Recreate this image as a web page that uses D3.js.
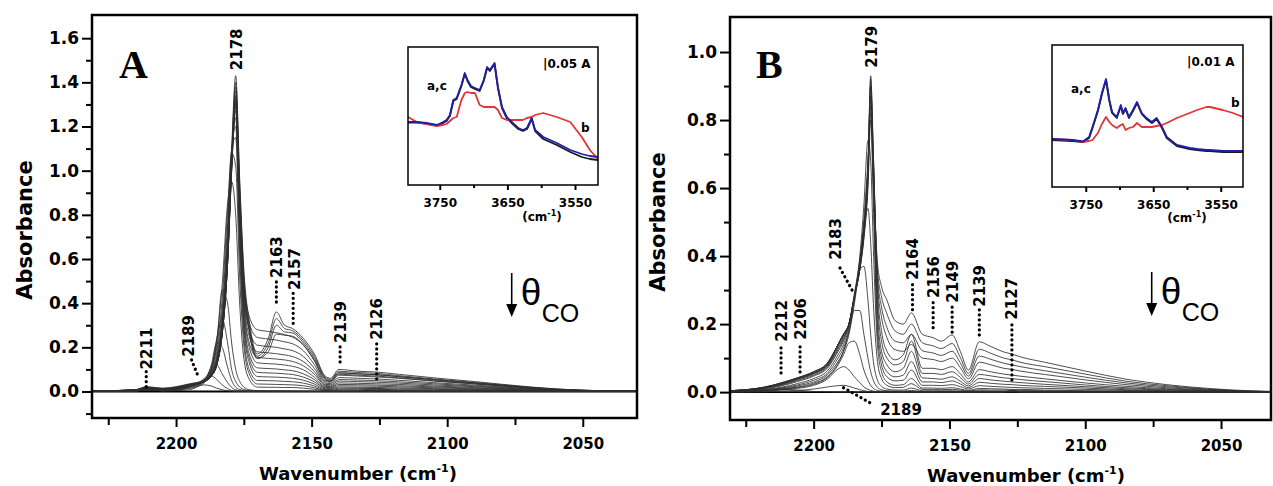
<!DOCTYPE html>
<html>
<head>
<meta charset="utf-8">
<script src="https://cdn.jsdelivr.net/npm/d3@7"></script>
<style>
  body { margin: 0; background: #fff; }
  svg { display: block; }
</style>
</head>
<body>
<div id="chart"></div>
<script>
// ---------- Panel A data (wavenumber grid + spectra, high -> low coverage) ----------
const gridA = [2231, 2215, 2211, 2205, 2195, 2190, 2187, 2185, 2183, 2181, 2179.5, 2178, 2176.5, 2175, 2173, 2170,
  2166, 2163, 2160, 2157, 2153, 2149, 2145, 2143, 2140, 2133, 2126, 2118, 2105, 2090, 2075, 2060, 2045, 2030];

const spectraA = [
  [0.002,0.008,0.022,0.015,0.035, 0.05,0.08,0.14,0.3,0.65, 1.1,1.43,0.95,0.55,0.32, 0.17,0.24,0.36,0.3,0.285, 0.24,0.17,0.07,0.06,0.1, 0.092,0.088,0.078,0.062,0.045, 0.027,0.012,0.004,0.001],
  [0.002,0.008,0.02,0.014,0.033, 0.048,0.075,0.13,0.28,0.62, 1.07,1.40,0.93,0.53,0.3, 0.16,0.22,0.33,0.285,0.275, 0.23,0.16,0.065,0.055,0.092, 0.086,0.082,0.072,0.057,0.041, 0.025,0.011,0.004,0.001],
  [0.002,0.007,0.019,0.013,0.031, 0.046,0.072,0.125,0.27,0.6, 1.05,1.38,0.9,0.5,0.28, 0.15,0.2,0.3,0.27,0.265, 0.22,0.15,0.06,0.05,0.085, 0.08,0.076,0.067,0.053,0.038, 0.023,0.01,0.004,0.001],
  [0.002,0.007,0.018,0.012,0.03, 0.045,0.07,0.12,0.26,0.58, 1.03,1.36,0.88,0.48,0.27, 0.15,0.18,0.26,0.255,0.25, 0.21,0.14,0.055,0.045,0.078, 0.074,0.07,0.062,0.049,0.035, 0.021,0.009,0.003,0.001],
  [0.002,0.007,0.017,0.012,0.03, 0.045,0.07,0.12,0.26,0.58, 1.02,1.34,0.88,0.5,0.34, 0.28,0.272,0.266,0.258,0.246, 0.21,0.14,0.05,0.048,0.084, 0.08,0.076,0.068,0.054,0.039, 0.023,0.01,0.003,0.001],
  [0.002,0.007,0.016,0.011,0.03, 0.045,0.07,0.12,0.26,0.58, 1.01,1.33,0.86,0.48,0.31, 0.245,0.238,0.233,0.225,0.216, 0.184,0.122,0.044,0.042,0.074, 0.07,0.066,0.06,0.047,0.034, 0.02,0.009,0.003,0.001],
  [0.002,0.006,0.015,0.011,0.029, 0.044,0.07,0.12,0.26,0.58, 1.0,1.32,0.84,0.45,0.28, 0.21,0.204,0.2,0.193,0.185, 0.158,0.105,0.038,0.036,0.063, 0.06,0.057,0.051,0.04,0.029, 0.017,0.008,0.003,0.001],
  [0.002,0.006,0.014,0.01,0.028, 0.043,0.07,0.12,0.26,0.58, 1.0,1.31,0.82,0.43,0.25, 0.18,0.175,0.171,0.166,0.158, 0.135,0.09,0.032,0.031,0.054, 0.052,0.049,0.044,0.035,0.025, 0.015,0.007,0.002,0.001],
  [0.002,0.006,0.013,0.01,0.027, 0.042,0.07,0.12,0.27,0.6, 1.0,1.3,0.8,0.41,0.22, 0.155,0.15,0.147,0.143,0.136, 0.116,0.078,0.028,0.026,0.047, 0.045,0.042,0.038,0.03,0.022, 0.013,0.006,0.002,0.001],
  [0.002,0.005,0.012,0.009,0.026, 0.042,0.072,0.13,0.28,0.62, 1.03,1.29,0.77,0.38,0.2, 0.13,0.126,0.124,0.12,0.114, 0.098,0.065,0.023,0.022,0.039, 0.037,0.035,0.032,0.025,0.018, 0.011,0.005,0.002,0],
  [0.002,0.005,0.011,0.008,0.025, 0.042,0.075,0.14,0.3,0.65, 1.05,1.27,0.74,0.35,0.17, 0.107,0.104,0.102,0.098,0.094, 0.08,0.054,0.019,0.018,0.032, 0.031,0.029,0.026,0.021,0.015, 0.009,0.004,0.001,0],
  [0.002,0.005,0.01,0.008,0.025, 0.043,0.078,0.15,0.32,0.68, 1.07,1.24,0.71,0.32,0.15, 0.087,0.084,0.083,0.08,0.077, 0.065,0.044,0.016,0.015,0.026, 0.025,0.024,0.021,0.017,0.012, 0.007,0.003,0.001,0],
  [0.002,0.005,0.01,0.007,0.025, 0.045,0.082,0.16,0.34,0.72, 1.08,1.2,0.67,0.29,0.13, 0.068,0.066,0.065,0.063,0.06, 0.051,0.034,0.012,0.012,0.02, 0.019,0.018,0.016,0.013,0.009, 0.005,0.002,0.001,0],
  [0.002,0.005,0.009,0.007,0.025, 0.047,0.088,0.18,0.37,0.76, 1.1,1.15,0.61,0.25,0.1, 0.05,0.049,0.048,0.046,0.044, 0.038,0.025,0.009,0.009,0.015, 0.014,0.013,0.012,0.01,0.007, 0.004,0.002,0.001,0],
  [0.002,0.004,0.009,0.007,0.026, 0.05,0.095,0.2,0.42,0.82, 1.08,1.02,0.51,0.21,0.08, 0.034,0.033,0.032,0.031,0.03, 0.026,0.017,0.006,0.006,0.01, 0.01,0.009,0.008,0.007,0.005, 0.003,0.001,0,0],
  [0.002,0.004,0.008,0.006,0.027, 0.055,0.11,0.23,0.48,0.85, 0.95,0.8,0.39,0.15,0.055, 0.02,0.019,0.019,0.018,0.018, 0.015,0.01,0.004,0.003,0.006, 0.006,0.005,0.005,0.004,0.003, 0.002,0.001,0,0],
  [0.001,0.003,0.008,0.005,0.025, 0.05,0.1,0.22,0.46,0.4, 0.22,0.1,0.045,0.02,0.008, 0.004,0.003,0.003,0.003,0.002, 0.002,0.001,0.001,0.001,0.001, 0.001,0.001,0.001,0,0, 0,0,0,0],
  [0.001,0.003,0.007,0.005,0.022, 0.045,0.1,0.24,0.33,0.22, 0.1,0.045,0.02,0.009,0.004, 0.002,0.002,0.002,0.001,0.001, 0.001,0.001,0,0,0.001, 0.001,0.001,0,0,0, 0,0,0,0],
  [0.001,0.003,0.006,0.004,0.02, 0.045,0.12,0.22,0.2,0.11, 0.05,0.02,0.009,0.004,0.002, 0.001,0.001,0.001,0.001,0.001, 0,0,0,0,0, 0,0.001,0,0,0, 0,0,0,0],
  [0.001,0.002,0.006,0.004,0.017, 0.04,0.1,0.12,0.08,0.04, 0.018,0.008,0.003,0.001,0, 0,0,0,0,0, 0,0,0,0,0, 0,0.002,0,0,0, 0,0,0,0],
  [0.001,0.002,0.01,0.003,0.014, 0.035,0.07,0.055,0.03,0.013, 0.005,0.002,0.001,0,0, 0,0,0,0,0, 0,0,0,0,0, 0.001,0.006,0.001,0,0, 0,0,0,0],
  [0,0.001,0.018,0.002,0.008, 0.03,0.025,0.015,0.008,0.003, 0.001,0,0,0,0, 0,0,0,0,0, 0,0,0,0,0, 0.002,0.015,0.002,0,0, 0,0,0,0]
];

// ---------- Panel B data ----------
const gridB = [2231, 2218, 2212, 2206, 2200, 2195, 2191, 2189, 2187, 2185, 2183, 2181.5, 2180, 2179, 2178, 2176.5, 2175,
  2173, 2170, 2167, 2164, 2160, 2156, 2153, 2149, 2146, 2143, 2139, 2135, 2130, 2127, 2124, 2115, 2100, 2085, 2070, 2055, 2040, 2030];

const spectraB = [
  [0.004,0.015,0.027,0.042,0.06, 0.085,0.14,0.17,0.2,0.28, 0.36,0.45,0.6,0.8,0.62, 0.38,0.31,0.27,0.21,0.2, 0.233,0.17,0.16,0.15,0.168, 0.12,0.065,0.148,0.135,0.118, 0.112,0.104,0.088,0.062,0.038, 0.022,0.011,0.004,0.002],
  [0.004,0.015,0.027,0.042,0.06, 0.085,0.14,0.17,0.2,0.28, 0.36,0.46,0.62,0.84,0.65, 0.36,0.28,0.23,0.18,0.17, 0.2,0.145,0.136,0.128,0.143, 0.102,0.055,0.126,0.115,0.1, 0.095,0.088,0.075,0.053,0.032, 0.019,0.009,0.003,0.001],
  [0.004,0.014,0.026,0.041,0.058, 0.083,0.14,0.17,0.2,0.28, 0.36,0.46,0.63,0.87,0.67, 0.34,0.25,0.19,0.15,0.145, 0.17,0.122,0.115,0.108,0.12, 0.086,0.047,0.106,0.097,0.085, 0.08,0.075,0.063,0.044,0.027, 0.016,0.008,0.003,0.001],
  [0.004,0.014,0.025,0.04,0.057, 0.082,0.14,0.17,0.2,0.28, 0.37,0.47,0.64,0.9,0.69, 0.32,0.22,0.16,0.125,0.12, 0.14,0.1,0.096,0.09,0.1, 0.072,0.039,0.088,0.081,0.07, 0.067,0.062,0.052,0.036,0.022, 0.013,0.006,0.002,0.001],
  [0.004,0.013,0.024,0.039,0.056, 0.08,0.14,0.17,0.2,0.28, 0.37,0.48,0.65,0.93,0.7, 0.3,0.18,0.12,0.095,0.11, 0.17,0.07,0.07,0.066,0.075, 0.054,0.03,0.066,0.06,0.053, 0.05,0.047,0.039,0.027,0.017, 0.01,0.005,0.002,0],
  [0.004,0.013,0.023,0.038,0.055, 0.078,0.135,0.165,0.2,0.28, 0.37,0.48,0.66,0.92,0.68, 0.27,0.15,0.1,0.08,0.09, 0.15,0.055,0.055,0.052,0.06, 0.043,0.024,0.052,0.048,0.042, 0.04,0.037,0.031,0.021,0.013, 0.008,0.004,0.001,0],
  [0.003,0.012,0.022,0.036,0.053, 0.076,0.13,0.16,0.2,0.28, 0.37,0.48,0.66,0.9,0.65, 0.24,0.12,0.08,0.06,0.07, 0.12,0.042,0.04,0.038,0.045, 0.032,0.018,0.04,0.036,0.032, 0.03,0.028,0.023,0.016,0.01, 0.006,0.003,0.001,0],
  [0.003,0.011,0.02,0.034,0.05, 0.073,0.125,0.155,0.2,0.28, 0.38,0.49,0.67,0.87,0.6, 0.2,0.1,0.06,0.045,0.05, 0.09,0.03,0.03,0.028,0.033, 0.024,0.013,0.029,0.026,0.023, 0.022,0.02,0.017,0.012,0.007, 0.004,0.002,0.001,0],
  [0.003,0.01,0.018,0.031,0.047, 0.07,0.12,0.15,0.2,0.29, 0.39,0.51,0.68,0.82,0.55, 0.17,0.08,0.045,0.033,0.035, 0.065,0.02,0.02,0.019,0.022, 0.016,0.009,0.019,0.017,0.015, 0.014,0.013,0.011,0.008,0.005, 0.003,0.001,0,0],
  [0.002,0.008,0.014,0.025,0.04, 0.062,0.11,0.14,0.19,0.28, 0.4,0.55,0.74,0.68,0.42, 0.14,0.06,0.03,0.02,0.022, 0.04,0.012,0.012,0.011,0.013, 0.009,0.005,0.011,0.01,0.009, 0.008,0.008,0.006,0.004,0.003, 0.002,0.001,0,0],
  [0.002,0.007,0.012,0.021,0.035, 0.055,0.1,0.13,0.18,0.27, 0.38,0.48,0.54,0.44,0.26, 0.09,0.04,0.02,0.013,0.014, 0.025,0.008,0.008,0.007,0.008, 0.006,0.003,0.007,0.006,0.006, 0.005,0.005,0.004,0.003,0.002, 0.001,0,0,0],
  [0.002,0.006,0.01,0.018,0.03, 0.05,0.09,0.12,0.17,0.26, 0.36,0.37,0.27,0.17,0.09, 0.035,0.017,0.009,0.006,0.006, 0.012,0.004,0.004,0.004,0.004, 0.003,0.002,0.004,0.003,0.003, 0.003,0.002,0.002,0.001,0.001, 0,0,0,0],
  [0.001,0.005,0.009,0.015,0.026, 0.045,0.085,0.12,0.18,0.24, 0.24,0.17,0.1,0.06,0.034, 0.014,0.007,0.004,0.003,0.003, 0.005,0.002,0.002,0.002,0.002, 0.001,0.001,0.002,0.002,0.001, 0.001,0.001,0.001,0.001,0, 0,0,0,0],
  [0.001,0.004,0.008,0.013,0.023, 0.042,0.08,0.11,0.145,0.15, 0.11,0.065,0.035,0.02,0.011, 0.005,0.003,0.002,0.001,0.001, 0.002,0.001,0.001,0.001,0.001, 0.001,0,0.001,0.001,0.001, 0.001,0,0,0,0, 0,0,0,0],
  [0.001,0.003,0.006,0.011,0.02, 0.038,0.068,0.075,0.065,0.045, 0.028,0.015,0.008,0.005,0.003, 0.001,0.001,0,0,0, 0,0,0,0,0, 0,0,0.001,0.001,0.001, 0.003,0.001,0,0,0, 0,0,0,0],
  [0,0.002,0.003,0.005,0.009, 0.015,0.019,0.02,0.017,0.012, 0.007,0.004,0.002,0.001,0.001, 0,0,0,0,0, 0,0,0,0,0, 0,0,0,0,0, 0.004,0.001,0,0,0, 0,0,0,0],
  [0,0.001,0.008,0.006,0.002, 0.001,0,0,0,0, 0,0,0,0,0, 0,0,0,0,0, 0,0,0,0,0, 0,0,0,0,0, 0.006,0.001,0,0,0, 0,0,0,0]
];

// ---------- Inset data (OH region, spectra a, b, c) ----------
const insetAWn = [3797, 3784, 3770, 3754, 3745, 3740, 3735, 3730, 3725, 3718, 3713, 3709, 3704, 3698, 3691, 3685, 3680,
  3676, 3669, 3664, 3658, 3651, 3642, 3634, 3627, 3621, 3614, 3609, 3597, 3577, 3557, 3540, 3528, 3516];
const insetABlue = [0.315,0.315,0.31,0.30,0.315, 0.325,0.35,0.425,0.435,0.50, 0.56,0.525,0.495,0.485,0.475, 0.525,0.59,0.575,0.61,0.49,
  0.39,0.34,0.31,0.285,0.275, 0.285,0.335,0.275,0.24,0.21, 0.175,0.155,0.145,0.14];
const insetABlack = [0.312,0.312,0.307,0.297,0.31, 0.32,0.345,0.42,0.43,0.495, 0.555,0.52,0.49,0.48,0.47, 0.52,0.585,0.57,0.605,0.485,
  0.385,0.335,0.305,0.28,0.27, 0.28,0.33,0.27,0.23,0.2, 0.165,0.14,0.13,0.125];
const insetARed = [0.34,0.315,0.305,0.295,0.30, 0.305,0.32,0.335,0.34,0.425, 0.46,0.465,0.46,0.46,0.40, 0.39,0.39,0.39,0.39,0.375,
  0.335,0.325,0.325,0.325,0.325, 0.335,0.34,0.35,0.36,0.34, 0.315,0.24,0.175,0.13];

const insetBWn = [3800, 3770, 3754, 3745, 3740, 3732, 3726, 3720, 3715, 3711, 3704, 3698, 3695, 3691, 3686, 3680, 3674,
  3667, 3660, 3652, 3645, 3637, 3630, 3615, 3596, 3585, 3571, 3566, 3547, 3532, 3517];
const insetBBlue = [0.048,0.047,0.0455,0.05,0.06, 0.077,0.094,0.108,0.087,0.075, 0.07,0.082,0.074,0.079,0.07, 0.077,0.085,0.074,0.069,0.065,
  0.069,0.06,0.05,0.042,0.039, 0.038,0.037,0.037,0.036,0.036, 0.036];
const insetBBlack = [0.047,0.046,0.045,0.049,0.059, 0.076,0.093,0.107,0.086,0.074, 0.069,0.081,0.073,0.078,0.069, 0.076,0.084,0.073,0.068,0.064,
  0.068,0.059,0.049,0.041,0.038, 0.037,0.036,0.036,0.035,0.035, 0.035];
const insetBRed = [0.048,0.047,0.045,0.046,0.047, 0.054,0.063,0.07,0.065,0.062, 0.059,0.062,0.063,0.057,0.059, 0.06,0.064,0.06,0.06,0.06,
  0.061,0.062,0.064,0.069,0.074, 0.077,0.08,0.08,0.077,0.074, 0.07];

// ---------- Tick values ----------
const xMajorTicks = [2200, 2150, 2100, 2050];
const xMinorTicks = [2225, 2175, 2125, 2075];
const yMajorA = [0, 0.2, 0.4, 0.6, 0.8, 1.0, 1.2, 1.4, 1.6];
const yMinorA = [-0.1, 0.1, 0.3, 0.5, 0.7, 0.9, 1.1, 1.3, 1.5];
const yMajorB = [0, 0.2, 0.4, 0.6, 0.8, 1.0];
const yMinorB = [0.1, 0.3, 0.5, 0.7, 0.9];
const insetMajorTicks = [3750, 3650, 3550];
const insetMinorTicks = [3700, 3600];

// peak labels: text, wavenumber of label, bottom of text (abs), dotted leader [wn1, a1, wn2, a2]
const peaksA = [
  { text: '2211', wn: 2211, at: 0.10, dots: [2211, 0.09, 2211, 0.02] },
  { text: '2189', wn: 2195.4, at: 0.157, dots: [2194.3, 0.143, 2191.6, 0.062] },
  { text: '2178', wn: 2177.8, at: 1.455, dots: null },
  { text: '2163', wn: 2163, at: 0.514, dots: [2163, 0.496, 2163, 0.383] },
  { text: '2157', wn: 2156.3, at: 0.46, dots: [2156.8, 0.445, 2156.8, 0.295] },
  { text: '2139', wn: 2139.3, at: 0.22, dots: [2139.5, 0.202, 2139.5, 0.112] },
  { text: '2126', wn: 2126, at: 0.234, dots: [2126, 0.216, 2126, 0.04] }
];
const peaksB = [
  { text: '2212', wn: 2212, at: 0.148, dots: [2212, 0.13, 2212, 0.045] },
  { text: '2206', wn: 2205, at: 0.154, dots: [2205, 0.133, 2205, 0.057] },
  { text: '2183', wn: 2192.1, at: 0.389, dots: [2190.3, 0.365, 2185.5, 0.295] },
  { text: '2179', wn: 2178.6, at: 0.954, dots: null },
  { text: '2164', wn: 2163.6, at: 0.33, dots: [2163.6, 0.316, 2163.6, 0.233] },
  { text: '2156', wn: 2156, at: 0.277, dots: [2156, 0.263, 2156, 0.175] },
  { text: '2149', wn: 2149, at: 0.263, dots: [2149, 0.25, 2149, 0.163] },
  { text: '2139', wn: 2139, at: 0.251, dots: [2139, 0.242, 2139, 0.16] },
  { text: '2127', wn: 2127, at: 0.213, dots: [2127, 0.198, 2127, 0.027] },
  { text: '2189', wn: 2175.5, at: -0.067, dots: [2189, 0.013, 2178, -0.037], flat: true }
];

const FONT = '"DejaVu Sans", Arial, sans-serif';

const svg = d3.select('#chart').append('svg')
    .attr('width', 1273)
    .attr('height', 486)
    .style('font-family', FONT);

function styleAxis(g, size) {
    g.select('.domain').remove();
    g.selectAll('.tick line').attr('stroke', '#000').attr('stroke-width', 2);
    g.selectAll('.tick text')
        .attr('fill', '#000')
        .style('font-size', size + 'px')
        .style('font-weight', 'bold')
        .style('font-family', FONT);
}

function drawPanel(p) {
    const x = d3.scaleLinear().domain(p.xDomain).range([p.left, p.right]);
    const y = d3.scaleLinear().domain(p.yDomain).range([p.bottom, p.top]);

    svg.append('clipPath').attr('id', 'clip' + p.id)
        .append('rect')
        .attr('x', p.left).attr('y', p.top)
        .attr('width', p.right - p.left).attr('height', p.bottom - p.top);

    const plot = svg.append('g').attr('clip-path', `url(#clip${p.id})`);

    // zero line
    plot.append('line')
        .attr('x1', p.left).attr('x2', p.right)
        .attr('y1', y(0)).attr('y2', y(0))
        .attr('stroke', '#000').attr('stroke-width', 1.8);

    const line = d3.line()
        .x((d, i) => x(p.grid[i]))
        .y(d => y(d))
        .curve(d3.curveMonotoneX);

    plot.selectAll('path.spec')
        .data(p.spectra)
        .join('path')
        .attr('class', 'spec')
        .attr('d', line)
        .attr('fill', 'none')
        .attr('stroke', '#2e2e2e')
        .attr('stroke-width', 0.85);

    // axes
    svg.append('g').attr('transform', `translate(${p.left},0)`)
        .call(d3.axisLeft(y).tickValues(p.yMajor).tickSize(10).tickPadding(3).tickFormat(d3.format('.1f')))
        .call(g => styleAxis(g, 17));
    svg.append('g').attr('transform', `translate(${p.left},0)`)
        .call(d3.axisLeft(y).tickValues(p.yMinor).tickSize(6).tickFormat(''))
        .call(g => styleAxis(g, 17));
    svg.append('g').attr('transform', `translate(0,${p.bottom})`)
        .call(d3.axisBottom(x).tickValues(xMajorTicks).tickSize(9).tickPadding(11).tickFormat(d3.format('d')))
        .call(g => styleAxis(g, 15));
    svg.append('g').attr('transform', `translate(0,${p.bottom})`)
        .call(d3.axisBottom(x).tickValues(xMinorTicks).tickSize(7).tickFormat(''))
        .call(g => styleAxis(g, 15));

    // frame
    svg.append('rect')
        .attr('x', p.left).attr('y', p.top)
        .attr('width', p.right - p.left).attr('height', p.bottom - p.top)
        .attr('fill', 'none').attr('stroke', '#000').attr('stroke-width', 2.5);

    // axis titles
    svg.append('text')
        .attr('transform', `translate(${p.yTitle[0]},${p.yTitle[1]}) rotate(-90)`)
        .attr('text-anchor', 'middle')
        .style('font-size', '21px').style('font-weight', 'bold')
        .text('Absorbance');

    const xt = svg.append('text')
        .attr('x', p.xTitle[0]).attr('y', p.xTitle[1])
        .attr('text-anchor', 'middle')
        .style('font-size', '18px').style('font-weight', 'bold');
    xt.append('tspan').text('Wavenumber (cm');
    xt.append('tspan').attr('dy', -8).style('font-size', '11px').text('-1');
    xt.append('tspan').attr('dy', 8).text(')');

    // panel letter
    svg.append('text')
        .attr('x', p.letterPos[0]).attr('y', p.letterPos[1])
        .style('font-family', '"Liberation Serif", "Times New Roman", serif')
        .style('font-size', '40px').style('font-weight', 'bold')
        .text(p.letter);

    // peak labels with dotted leaders
    p.peaks.forEach(pk => {
        if (pk.dots) {
            svg.append('line')
                .attr('x1', x(pk.dots[0])).attr('y1', y(pk.dots[1]))
                .attr('x2', x(pk.dots[2])).attr('y2', y(pk.dots[3]))
                .attr('stroke', '#000').attr('stroke-width', 3.2)
                .attr('stroke-linecap', 'round')
                .attr('stroke-dasharray', '0.1,4.9');
        }
        if (pk.flat) {
            svg.append('text')
                .attr('x', x(pk.wn)).attr('y', y(pk.at))
                .style('font-size', '15px').style('font-weight', 'bold')
                .text(pk.text);
        } else {
            svg.append('text')
                .attr('transform', `translate(${x(pk.wn) + 5.5},${y(pk.at)}) rotate(-90)`)
                .style('font-size', '15px').style('font-weight', 'bold')
                .text(pk.text);
        }
    });

    // theta_CO arrow
    const ax = p.theta[0], ay = p.theta[1];
    svg.append('line')
        .attr('x1', ax).attr('x2', ax).attr('y1', ay).attr('y2', ay + 34)
        .attr('stroke', '#000').attr('stroke-width', 1.6);
    svg.append('path')
        .attr('d', `M${ax - 5.5},${ay + 31} L${ax + 5.5},${ay + 31} L${ax},${ay + 44} Z`)
        .attr('fill', '#000');
    svg.append('text')
        .attr('x', ax + 9).attr('y', ay + 32)
        .style('font-family', '"Liberation Sans", Arial, sans-serif')
        .style('font-size', '37px')
        .text('\u03b8');
    svg.append('text')
        .attr('x', ax + 30).attr('y', ay + 49)
        .style('font-family', '"Liberation Sans", Arial, sans-serif')
        .style('font-size', '25px')
        .text('CO');
}

function drawInset(s) {
    const x = d3.scaleLinear().domain(s.xDomain).range([s.left, s.right]);
    const y = d3.scaleLinear().domain(s.yDomain).range([s.bottom, s.top]);

    svg.append('rect')
        .attr('x', s.left).attr('y', s.top)
        .attr('width', s.right - s.left).attr('height', s.bottom - s.top)
        .attr('fill', '#fff');

    svg.append('clipPath').attr('id', 'clip' + s.id)
        .append('rect')
        .attr('x', s.left).attr('y', s.top)
        .attr('width', s.right - s.left).attr('height', s.bottom - s.top);

    const g = svg.append('g').attr('clip-path', `url(#clip${s.id})`);
    const line = d3.line()
        .x((d, i) => x(s.wn[i]))
        .y(d => y(d));

    s.series.forEach(sr => {
        g.append('path')
            .attr('d', line(sr.values))
            .attr('fill', 'none')
            .attr('stroke', sr.color)
            .attr('stroke-width', 1.8)
            .attr('stroke-linejoin', 'round');
    });

    svg.append('g').attr('transform', `translate(0,${s.bottom})`)
        .call(d3.axisBottom(x).tickValues(insetMajorTicks).tickSize(5).tickPadding(8).tickFormat(d3.format('d')))
        .call(a => styleAxis(a, 12));
    svg.append('g').attr('transform', `translate(0,${s.bottom})`)
        .call(d3.axisBottom(x).tickValues(insetMinorTicks).tickSize(3).tickFormat(''))
        .call(a => styleAxis(a, 12));

    svg.append('rect')
        .attr('x', s.left).attr('y', s.top)
        .attr('width', s.right - s.left).attr('height', s.bottom - s.top)
        .attr('fill', 'none').attr('stroke', '#000').attr('stroke-width', 1.5);

    const unit = svg.append('text')
        .attr('x', s.unitPos[0]).attr('y', s.unitPos[1] + 34)
        .attr('text-anchor', 'middle')
        .style('font-size', '12px').style('font-weight', 'bold');
    unit.append('tspan').text('(cm');
    unit.append('tspan').attr('dy', -5).style('font-size', '8px').text('-1');
    unit.append('tspan').attr('dy', 5).text(')');

    svg.append('text')
        .attr('x', s.scalePos[0]).attr('y', s.scalePos[1])
        .style('font-size', '12px').style('font-weight', 'bold')
        .text('|' + s.scaleText);
    svg.append('text')
        .attr('x', s.acPos[0]).attr('y', s.acPos[1])
        .style('font-size', '12px').style('font-weight', 'bold')
        .text('a,c');
    svg.append('text')
        .attr('x', s.bPos[0]).attr('y', s.bPos[1])
        .style('font-size', '12px').style('font-weight', 'bold')
        .text('b');
}

drawPanel({
    id: 'A', letter: 'A', letterPos: [119, 78],
    left: 92, right: 637, top: 15, bottom: 418,
    xDomain: [2231, 2030], yDomain: [-0.12, 1.705],
    yMajor: yMajorA, yMinor: yMinorA,
    grid: gridA, spectra: spectraA, peaks: peaksA,
    yTitle: [32, 230], xTitle: [358, 480], theta: [511.7, 273]
});

drawPanel({
    id: 'B', letter: 'B', letterPos: [756, 78],
    left: 730, right: 1271, top: 17, bottom: 420,
    xDomain: [2230.8, 2031.6], yDomain: [-0.082, 1.103],
    yMajor: yMajorB, yMinor: yMinorB,
    grid: gridB, spectra: spectraB, peaks: peaksB,
    yTitle: [665, 222], xTitle: [1026, 482], theta: [1151.7, 272]
});

drawInset({
    id: 'iA', left: 408, right: 598, top: 47, bottom: 185,
    xDomain: [3797, 3516], yDomain: [0, 0.69],
    wn: insetAWn,
    series: [
        { values: insetABlack, color: '#1a1a1a' },
        { values: insetARed, color: '#e3343a' },
        { values: insetABlue, color: '#1f1fa8' }
    ],
    unitPos: [542, 187], scalePos: [543, 68], scaleText: '0.05 A',
    acPos: [427, 90], bPos: [581, 132]
});

drawInset({
    id: 'iB', left: 1052, right: 1243, top: 45, bottom: 187,
    xDomain: [3800, 3517], yDomain: [0, 0.142],
    wn: insetBWn,
    series: [
        { values: insetBBlack, color: '#1a1a1a' },
        { values: insetBRed, color: '#e3343a' },
        { values: insetBBlue, color: '#1f1fa8' }
    ],
    unitPos: [1187, 188], scalePos: [1187, 66], scaleText: '0.01 A',
    acPos: [1071, 93], bPos: [1231, 107]
});
</script>
</body>
</html>
